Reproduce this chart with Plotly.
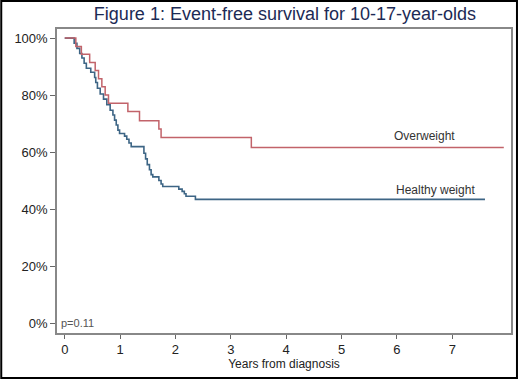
import plotly.graph_objects as go

# ---- data ----
healthy_t = [0.00, 0.17, 0.22, 0.27, 0.31, 0.35, 0.39, 0.47, 0.54, 0.56, 0.59, 0.64,
             0.70, 0.76, 0.82, 0.87, 0.90, 0.93, 0.96, 0.99, 1.08, 1.12, 1.16, 1.20,
             1.43, 1.46, 1.49, 1.53, 1.56, 1.59, 1.70, 1.74, 1.77, 2.06, 2.12, 2.16,
             2.19, 2.36, 7.59]
healthy_s = [100.0, 98.2, 96.4, 94.6, 93.0, 91.2, 89.4, 88.0, 86.2, 84.4, 82.4, 80.4,
             78.6, 76.6, 74.7, 73.0, 71.2, 69.5, 67.7, 66.5, 65.6, 64.5, 63.2, 61.9,
             59.6, 57.6, 55.6, 53.8, 52.1, 51.3, 50.0, 48.8, 47.9, 47.0, 46.2, 45.4,
             44.5, 43.4, 43.4]

over_t = [0.00, 0.20, 0.30, 0.45, 0.55, 0.61, 0.67, 0.73, 0.79, 1.14, 1.35, 1.70,
          1.74, 3.37, 7.93]
over_s = [100.0, 97.1, 94.3, 91.4, 88.6, 85.7, 82.9, 80.0, 77.1, 74.2, 71.0, 68.1,
          65.1, 61.6, 61.6]

x_ticks = [0, 1, 2, 3, 4, 5, 6, 7]
y_ticks = [0, 20, 40, 60, 80, 100]
y_ticktext = ["0%", "20%", "40%", "60%", "80%", "100%"]
labels = ["Overweight", "Healthy weight"]
label_x = [6.50, 6.69]
label_y = [65.5, 46.6]

title_text = "Figure 1: Event-free survival for 10-17-year-olds"
x_title = "Years from diagnosis"
p_text = "p=0.11"

RED = "#c2636a"
BLUE = "#3d6585"
FONT = "Liberation Sans, Arial, sans-serif"

W, H = 520, 379
ML, MR, MT, MB = 57, 7, 29, 46

fig = go.Figure()
fig.add_trace(go.Scatter(x=healthy_t, y=healthy_s, mode="lines",
                         line=dict(color=BLUE, width=1.6, shape="hv"),
                         name="Healthy weight", hoverinfo="skip"))
fig.add_trace(go.Scatter(x=over_t, y=over_s, mode="lines",
                         line=dict(color=RED, width=1.5, shape="hv"),
                         name="Overweight", hoverinfo="skip"))

for txt, lx, ly in zip(labels, label_x, label_y):
    fig.add_annotation(x=lx, y=ly, text=txt, showarrow=False, xanchor="center",
                       yanchor="middle", font=dict(size=12, color="#333333", family=FONT))

fig.add_annotation(xref="paper", yref="y", x=0.005, y=0, text=p_text, showarrow=False,
                   xanchor="left", yanchor="middle",
                   font=dict(size=11, color="#555555", family=FONT))

pw = W - ML - MR
ph = H - MT - MB
fig.add_shape(type="rect", xref="paper", yref="paper",
              x0=-(ML - 1) / pw, x1=1 + (MR - 1) / pw,
              y0=-(MB - 1) / ph, y1=1 + (MT - 1) / ph,
              line=dict(color="black", width=2), layer="above")

fig.update_layout(
    width=W, height=H,
    margin=dict(l=ML, r=MR, t=MT, b=MB, pad=0),
    paper_bgcolor="white", plot_bgcolor="white",
    showlegend=False,
    font=dict(family=FONT, color="#222222"),
    title=dict(text=title_text, x=0.548, xanchor="center", y=1 - 14 / H,
               yanchor="middle", font=dict(size=18, color="#1c2a55", family=FONT)),
)
fig.update_xaxes(range=[-0.14, 8.06], tickvals=x_ticks, ticks="outside", ticklen=4,
                 tickcolor="#666666", showgrid=False, zeroline=False,
                 showline=True, linecolor="#888888", linewidth=1.5, mirror=True,
                 tickfont=dict(size=13, color="#222222"),
                 title=dict(text=x_title, font=dict(size=12, color="#222222"), standoff=2))
fig.update_yaxes(range=[-3.5, 103.2], tickmode="array", tickvals=y_ticks,
                 ticktext=y_ticktext, ticks="outside",
                 ticklen=5, tickcolor="#666666", showgrid=False, zeroline=False,
                 showline=True, linecolor="#888888", linewidth=1.5, mirror=True,
                 tickfont=dict(size=13, color="#222222"))

fig.write_html("out.html", config={"displayModeBar": False},
               post_script="document.body.style.margin='0';document.body.style.overflow='hidden';")
